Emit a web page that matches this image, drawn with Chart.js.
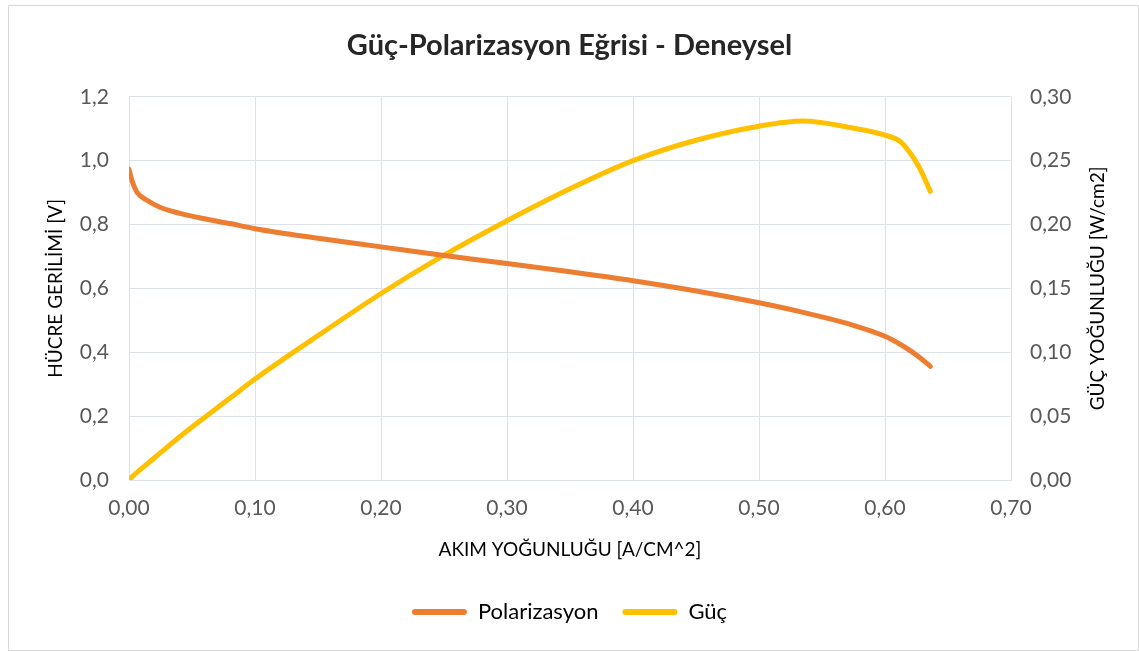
<!DOCTYPE html>
<html>
<head>
<meta charset="utf-8">
<script src="https://cdn.jsdelivr.net/npm/chart.js@4/dist/chart.umd.min.js"></script>
<style>
  html, body { margin: 0; padding: 0; background: #fff; }
  #frame { position: absolute; left: 8px; top: 5px; width: 1129px; height: 644px; border: 1px solid #d9d9d9; }
  #wrap { position: absolute; left: 0; top: 0; width: 1139px; height: 651px; }
</style>
</head>
<body>
<div id="frame"></div>
<div id="wrap"><canvas id="chart" width="1139" height="651"></canvas></div>
<script>
// akim yogunlugu [A/cm^2]
const currentDensity = [0, 0.003, 0.0064, 0.0143, 0.0246, 0.0405, 0.0587, 0.080, 0.10, 0.15, 0.20, 0.25, 0.30, 0.35, 0.40, 0.45, 0.50, 0.535, 0.572, 0.60, 0.612, 0.620, 0.627, 0.636];
// hucre gerilimi [V]
const voltage = [0.973, 0.930, 0.901, 0.876, 0.854, 0.835, 0.819, 0.803, 0.787, 0.757, 0.730, 0.703, 0.678, 0.652, 0.624, 0.592, 0.555, 0.525, 0.488, 0.450, 0.425, 0.405, 0.385, 0.356];
// guc yogunlugu [W/cm2]
const power = [0.000, 0.003, 0.006, 0.0125, 0.021, 0.034, 0.048, 0.064, 0.079, 0.113, 0.146, 0.176, 0.203, 0.228, 0.250, 0.266, 0.277, 0.281, 0.276, 0.270, 0.265, 0.256, 0.245, 0.226];

const seriesNames = ['Polarizasyon', 'Güç'];
const xTicks = [0, 0.1, 0.2, 0.3, 0.4, 0.5, 0.6, 0.7];
const leftTicks = [0, 0.2, 0.4, 0.6, 0.8, 1.0, 1.2];
const rightTicks = [0, 0.05, 0.10, 0.15, 0.20, 0.25, 0.30];
const rightTitle = 'GÜÇ YOĞUNLUĞU [W/cm2]';

const FONT = 'Lato, "Open Sans", sans-serif';
const gridColor = '#dde1e9';
const tickColor = '#595959';

const toPoints = (ys) => currentDensity.map((x, i) => ({x: x, y: ys[i]}));
const fmt = (v, d) => v.toFixed(d).replace('.', ',');

// right axis title reads bottom-to-top like the left one
const rightTitlePlugin = {
    id: 'rightTitle',
    afterDraw(chart) {
        const c = chart.ctx;
        const area = chart.chartArea;
        c.save();
        c.translate(1098, (area.top + area.bottom) / 2);
        c.rotate(-Math.PI / 2);
        c.textAlign = 'center';
        c.textBaseline = 'middle';
        c.fillStyle = '#000';
        c.font = '19px ' + FONT;
        c.fillText(rightTitle, 0, 0);
        c.restore();
    }
};

const ctx = document.getElementById('chart').getContext('2d');
new Chart(ctx, {
    type: 'scatter',
    data: {
        datasets: [{
            label: seriesNames[0],
            data: toPoints(voltage),
            yAxisID: 'y',
            showLine: true,
            borderColor: '#ED7D31',
            backgroundColor: '#ED7D31',
            borderWidth: 5,
            borderCapStyle: 'round',
            borderJoinStyle: 'round',
            pointRadius: 0,
            cubicInterpolationMode: 'monotone'
        }, {
            label: seriesNames[1],
            data: toPoints(power),
            yAxisID: 'y1',
            showLine: true,
            borderColor: '#FFC000',
            backgroundColor: '#FFC000',
            borderWidth: 5,
            borderCapStyle: 'round',
            borderJoinStyle: 'round',
            pointRadius: 0,
            cubicInterpolationMode: 'monotone'
        }]
    },
    options: {
        responsive: false,
        animation: false,
        layout: {padding: {left: 0, right: 0, top: 0, bottom: 18}},
        plugins: {
            title: {
                display: true,
                text: 'Güç-Polarizasyon Eğrisi - Deneysel',
                color: '#262626',
                font: {family: FONT, size: 29, weight: 'bold', lineHeight: 1.2},
                padding: {top: 28, bottom: 34}
            },
            legend: {
                position: 'bottom',
                labels: {
                    color: '#000',
                    font: {family: FONT, size: 22},
                    boxWidth: 55,
                    boxHeight: 6,
                    useBorderRadius: true,
                    borderRadius: 3,
                    padding: 24,
                    generateLabels: (chart) => Chart.defaults.plugins.legend.labels.generateLabels(chart)
                        .map(l => Object.assign(l, {lineWidth: 0}))
                }
            },
            tooltip: {enabled: false}
        },
        scales: {
            x: {
                type: 'linear',
                min: 0, max: 0.7,
                afterBuildTicks: (s) => { s.ticks = xTicks.map(v => ({value: v})); },
                afterFit: (s) => { s.height = 97; },
                grid: {color: gridColor, drawTicks: false},
                border: {color: gridColor},
                ticks: {color: tickColor, padding: 16, font: {family: FONT, size: 21}, callback: (v) => fmt(v, 2)},
                title: {display: true, text: 'AKIM YOĞUNLUĞU [A/CM^2]', color: '#000', padding: 16,
                        font: {family: FONT, size: 19}}
            },
            y: {
                position: 'left',
                min: 0, max: 1.2,
                afterBuildTicks: (s) => { s.ticks = leftTicks.map(v => ({value: v})); },
                afterFit: (s) => { s.width = 129; },
                grid: {color: gridColor, drawTicks: false},
                border: {color: gridColor},
                ticks: {color: tickColor, padding: 20, font: {family: FONT, size: 21}, callback: (v) => fmt(v, 1)},
                title: {display: true, text: 'HÜCRE GERİLİMİ [V]', color: '#000', padding: 44,
                        font: {family: FONT, size: 19}}
            },
            y1: {
                position: 'right',
                min: 0, max: 0.3,
                afterBuildTicks: (s) => { s.ticks = rightTicks.map(v => ({value: v})); },
                afterFit: (s) => { s.width = 128; },
                grid: {display: false, drawTicks: false},
                border: {display: false},
                ticks: {color: tickColor, padding: 19, font: {family: FONT, size: 21}, callback: (v) => fmt(v, 2)}
            }
        }
    },
    plugins: [rightTitlePlugin]
});
</script>
</body>
</html>
